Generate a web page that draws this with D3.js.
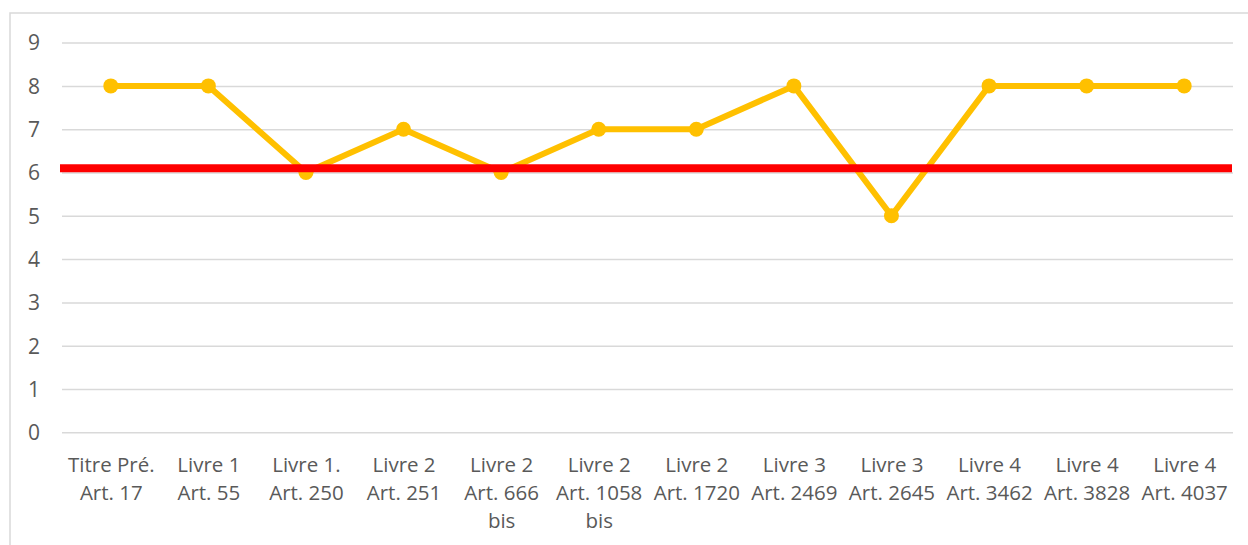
<!DOCTYPE html>
<html><head><meta charset="utf-8">
<script src="https://cdn.jsdelivr.net/npm/d3@7"></script>
<style>html,body{margin:0;padding:0;background:#fff;overflow:hidden}</style>
</head><body><svg id="c" width="1248" height="545"></svg>
<script>
const categories = [
  ["Titre Pré.","Art. 17"],
  ["Livre 1","Art. 55"],
  ["Livre 1.","Art. 250"],
  ["Livre 2","Art. 251"],
  ["Livre 2","Art. 666","bis"],
  ["Livre 2","Art. 1058","bis"],
  ["Livre 2","Art. 1720"],
  ["Livre 3","Art. 2469"],
  ["Livre 3","Art. 2645"],
  ["Livre 4","Art. 3462"],
  ["Livre 4","Art. 3828"],
  ["Livre 4","Art. 4037"]
];
const values = [8,8,6,7,6,7,7,8,5,8,8,8];
const threshold = 6.1;
const yTicks = [0,1,2,3,4,5,6,7,8,9];

(function(){
const svg = d3.select("#c");
const font = "'Open Sans', sans-serif";
const pL = 62, pR = 1233, pT = 42.6, pB = 432.3;

// chart border
svg.append("rect").attr("x",10).attr("y",13).attr("width",1240).attr("height",545)
  .attr("fill","none").attr("stroke","#d9d9d9").attr("stroke-width",1.5);

const ids = categories.map((d,i)=>i);
const x = d3.scalePoint().domain(ids).range([pL,pR]).padding(0.5);
const y = d3.scaleLinear().domain([0,9]).range([pB,pT]);

// gridlines + y labels via axis
const yAxis = d3.axisLeft(y).tickValues(yTicks).tickSize(-(pR-pL)).tickPadding(22).tickFormat(d3.format("d"));
const ga = svg.append("g").attr("transform",`translate(${pL},0)`).call(yAxis);
ga.select(".domain").remove();
ga.selectAll(".tick line").attr("stroke","#d9d9d9").attr("stroke-width",1.5);
ga.selectAll(".tick text").attr("fill","#595959").style("font-family",font).style("font-size","21px").attr("dy","0.35em");

// x labels
const xAxis = d3.axisBottom(x).tickSize(0).tickFormat("");
const gx = svg.append("g").attr("transform",`translate(0,${pB})`).call(xAxis);
gx.select(".domain").remove();
gx.selectAll(".tick").each(function(d){
  const t = d3.select(this).append("text").attr("fill","#595959")
    .attr("text-anchor","middle").style("font-family",font).style("font-size","20.5px");
  categories[d].forEach((s,j)=>{
    t.append("tspan").attr("x",0).attr("y",40+j*28).text(s);
  });
});

// series line
const line = d3.line().x((d,i)=>x(i)).y(d=>y(d));
svg.append("path").datum(values).attr("d",line).attr("fill","none")
  .attr("stroke","#FFC000").attr("stroke-width",6).attr("stroke-linejoin","round");
svg.selectAll("circle.pt").data(values).join("circle").attr("class","pt")
  .attr("cx",(d,i)=>x(i)).attr("cy",d=>y(d)).attr("r",7.5).attr("fill","#FFC000");

// threshold line
svg.append("line").attr("x1",pL-2).attr("x2",pR-1).attr("y1",y(threshold)).attr("y2",y(threshold))
  .attr("stroke","#FF0000").attr("stroke-width",8);
})();
</script>
</body></html>
